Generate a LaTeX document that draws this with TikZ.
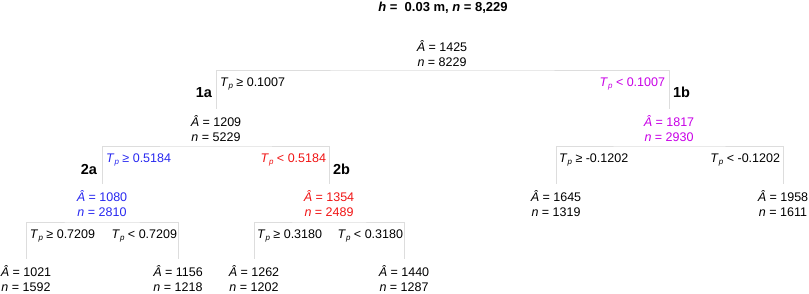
\documentclass[tikz,border=0pt]{standalone}
\usepackage{fontspec}
\setmainfont{Liberation Sans}
\definecolor{cblue}{RGB}{40,40,240}
\definecolor{cred}{RGB}{240,20,20}
\definecolor{cmag}{RGB}{200,0,230}
\definecolor{cline}{RGB}{221,221,221}
\newcommand{\Tp}{\textit{T}\kern0.2pt\raisebox{-0.4ex}{\fontsize{8}{8}\selectfont\textit{p}}}
\newcommand{\Ah}{\textit{Â}}
\newcommand{\nn}{\textit{n}}
\begin{document}
\begin{tikzpicture}[x=1pt,y=-1pt,
  every node/.style={inner sep=0pt,outer sep=0pt,font=\fontsize{12.5}{14.5}\selectfont},
  tnode/.style={align=center},
  blab/.style={},
  idlab/.style={font=\fontsize{14.5}{16}\selectfont\bfseries},
  conn/.style={draw=cline,line width=1pt},
  drop/.style={yshift=7pt}]
\useasboundingbox (0,0) rectangle (809,293);
% title
\node[font=\fontsize{13}{15}\selectfont\bfseries,anchor=base] (title) at (443,11) {\textit{h} =\ \ 0.03 m, \textit{n} = 8,229};
% tree nodes
\node[tnode] (root) at (442,53.5) {\Ah{} = 1425\\\nn{} = 8229};
\node[tnode] (a1) at (216,128.5) {\Ah{} = 1209\\\nn{} = 5229};
\node[tnode,text=cmag] (b1) at (669,128.5) {\Ah{} = 1817\\\nn{} = 2930};
\node[tnode,text=cblue] (a2) at (102,203.5) {\Ah{} = 1080\\\nn{} = 2810};
\node[tnode,text=cred] (b2) at (329,203.5) {\Ah{} = 1354\\\nn{} = 2489};
\node[tnode] (c1) at (556,203.5) {\Ah{} = 1645\\\nn{} = 1319};
\node[tnode] (c2) at (783,203.5) {\Ah{} = 1958\\\nn{} = 1611};
\node[tnode] (l1) at (26,278.5) {\Ah{} = 1021\\\nn{} = 1592};
\node[tnode] (l2) at (178,278.5) {\Ah{} = 1156\\\nn{} = 1218};
\node[tnode] (l3) at (254,278.5) {\Ah{} = 1262\\\nn{} = 1202};
\node[tnode] (l4) at (404,278.5) {\Ah{} = 1440\\\nn{} = 1287};
% bars
\coordinate (bar0) at (442,70);
\coordinate (bar1) at (216,146);
\coordinate (bar2) at (669,146);
\coordinate (bar3) at (102,222);
\coordinate (bar4) at (329,222);
% connectors
\draw[conn] ([drop]a1.north) |- (bar0) -| ([drop]b1.north);
\draw[conn] ([drop]a2.north) |- (bar1) -| ([drop]b2.north);
\draw[conn] ([drop]c1.north) |- (bar2) -| ([drop]c2.north);
\draw[conn] ([drop]l1.north) |- (bar3) -| ([drop]l2.north);
\draw[conn] ([drop]l3.north) |- (bar4) -| ([drop]l4.north);
% branch labels
\node[anchor=base west] (t1) at (220,86) {\Tp{} ≥ 0.1007};
\node[anchor=base east,text=cmag] (t2) at (665,86) {\Tp{} < 0.1007};
\node[idlab,anchor=base east] (id1a) at (212,97) {1a};
\node[idlab,anchor=base west] (id1b) at (673,97) {1b};
\node[anchor=base west,text=cblue] (t3) at (106,162) {\Tp{} ≥ 0.5184};
\node[anchor=base east,text=cred] (t4) at (326,162) {\Tp{} < 0.5184};
\node[idlab,anchor=base east] (id2a) at (97,174) {2a};
\node[idlab,anchor=base west] (id2b) at (333,174) {2b};
\node[anchor=base west] (t5) at (559,162) {\Tp{} ≥ -0.1202};
\node[anchor=base east] (t6) at (780,162) {\Tp{} < -0.1202};
\node[anchor=base west] (t7) at (30,238) {\Tp{} ≥ 0.7209};
\node[anchor=base east] (t8) at (177,238) {\Tp{} < 0.7209};
\node[anchor=base west] (t9) at (257,238) {\Tp{} ≥ 0.3180};
\node[anchor=base east] (t10) at (403,238) {\Tp{} < 0.3180};
\end{tikzpicture}
\end{document}
